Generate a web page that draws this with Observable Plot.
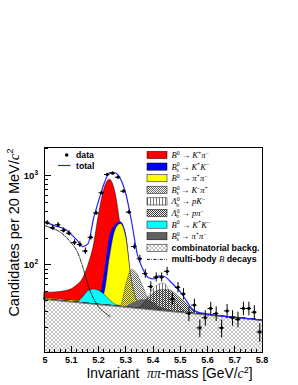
<!DOCTYPE html>
<html><head><meta charset="utf-8">
<script src="https://cdn.jsdelivr.net/npm/d3@7"></script>
<script src="https://cdn.jsdelivr.net/npm/@observablehq/plot@0.6"></script>
<style>
html,body{margin:0;padding:0;background:#fff;}
#chart svg{display:block;}
</style></head><body>
<svg width="0" height="0" style="position:absolute">
  <defs>
    <pattern id="pComb" width="4" height="4" patternUnits="userSpaceOnUse">
      <rect width="4" height="4" fill="#fff"/>
      <path d="M0,0L4,4M4,0L0,4" stroke="#999" stroke-width="0.6" fill="none"/>
    </pattern>
    <pattern id="pBsKpi" width="2" height="2" patternUnits="userSpaceOnUse">
      <rect x="0" y="0" width="1" height="1" fill="#666"/>
      <rect x="1" y="1" width="1" height="1" fill="#666"/>
    </pattern>
    <pattern id="pLbPK" width="3" height="3" patternUnits="userSpaceOnUse">
      <rect x="0" y="0" width="1" height="3" fill="#777"/>
    </pattern>
    <pattern id="pLbPpi" width="2" height="2" patternUnits="userSpaceOnUse">
      <rect x="0" y="0" width="1" height="1" fill="#333"/>
      <rect x="1" y="1" width="1" height="1" fill="#333"/>
    </pattern>
  </defs>
</svg>
<div id="chart"></div>
<script>
// ---- data ----
const massGrid = [5.00,5.02,5.04,5.06,5.08,5.10,5.12,5.14,5.16,5.18,5.20,5.22,5.24,5.26,5.28,5.30,5.32,5.34,5.36,5.38,5.40,5.42,5.44,5.46,5.48,5.50,5.52,5.54,5.56,5.58,5.60,5.62,5.64,5.66,5.68,5.70,5.72,5.74,5.76,5.78,5.80];
const binCenters = [5.01,5.03,5.05,5.07,5.09,5.11,5.13,5.15,5.17,5.19,5.21,5.23,5.25,5.27,5.29,5.31,5.33,5.35,5.37,5.39,5.41,5.43,5.45,5.47,5.49,5.51,5.53,5.55,5.57,5.59,5.61,5.63,5.65,5.67,5.69,5.71,5.73,5.75,5.77,5.79];
const dataCounts = [301,264,286,247,230,181,172,145,207,387,652,1045,1081,975,680,396,163,119,81,58,74,74,86,42,57,48,29,36,20,26,33,29,20,31,26,25,33,33,30,18];
const totalFit = [311,292,277,266,250,220,191,163,176,336,548,849,1100,1086,918,608,303,136,92.5,73.4,70.6,76.3,75.3,67,58.2,49.9,40.6,33,30.2,29.2,28.7,27.9,27.4,26.9,26.5,26.2,25.8,25.5,25.2,24.8,24.6];
const multiBody = [281,266,253,234,206,176,143,97.5,59.7,42.7,33.9,29.8,26.9];
const combBkg = [41.6,41.0,40.5,39.9,39.4,38.9,38.4,37.8,37.3,36.8,36.3,35.8,35.4,34.9,34.4,34.0,33.5,33.0,32.6,32.2,31.7,31.3,30.9,30.5,30.1,29.7,29.3,28.9,28.5,28.1,27.7,27.3,27.0,26.6,26.3,25.9,25.6,25.2,24.9,24.5,24.2];
// yields above the combinatorial background
const bdKpi  = [7.9,8.6,9.4,10.6,12.5,15.1,21.7,32,61,123,334,684,876,625,239,76,18.5,3,1,0,0,0,0,0,0,0,0,0,0,0,0,0,0,0,0,0,0,0,0,0,0];
const bsKK   = [0.5,0.5,0.5,0.5,0.5,0.5,0.5,0.5,0.5,2,4.3,46,176,245,273,194,40,7.5,1,0,0,0,0,0,0,0,0,0,0,0,0,0,0,0,0,0,0,0,0,0,0];
const bdPipi = [1.5,1.5,1.5,1.5,1.5,1.5,1.5,1.5,1.5,2,4,12.9,88,212,257,172,36,6.8,1.2,0,0,0,0,0,0,0,0,0,0,0,0,0,0,0,0,0,0,0,0,0,0];
const bsKpi  = [0,0,0,0,0,0,0,0,0,0,0,0,0,0.5,1,26,55.6,48,27,11.4,3.9,0.5,0,0,0,0,0,0,0,0,0,0,0,0,0,0,0,0,0,0,0];
const lbPK   = [0,0,0,0,0,0,0,0,0,0,0,0,0,0,0,0,0,0,2,11.6,22.1,29.9,32,20.7,10.5,4.2,1,0,0,0,0,0,0,0,0,0,0,0,0,0,0];
const lbPpi  = [0,0,0,0,0,0,0,0,0,0,0,0,0,0,0,0,0,0,3,10.5,16.8,21.1,22.2,22,18.5,13,8.2,3.2,1.3,0.3,0,0,0,0,0,0,0,0,0,0,0];
const bdKK   = [0,0,0,0,0,0,0.5,5.8,13.9,17.1,15.9,11.5,5.5,1.7,0.3,0,0,0,0,0,0,0,0,0,0,0,0,0,0,0,0,0,0,0,0,0,0,0,0,0,0];
const bsPipi = [0,0,0,0,0,0,0,0,0,0,0,0,0,0,0,0.3,3.5,6.4,8.4,8.3,6.3,3.4,1.7,0.5,0,0,0,0,0,0,0,0,0,0,0,0,0,0,0,0,0];

const xMajor = [5.0,5.1,5.2,5.3,5.4,5.5,5.6,5.7,5.8];
const xMajorLabels = ["5","5.1","5.2","5.3","5.4","5.5","5.6","5.7","5.8"];
const xMinor = massGrid;
const yMajor = [100, 1000];
const yMajorExp = ["2", "3"];
const yMinor = [20,30,40,50,60,70,80,90,200,300,400,500,600,700,800,900,2000];
const yDomain = [10.6, 2096];

const legendItems = [
  {fill:"#ff0000", parts:[["B"],["0","sup"],[" → K"],["+","sup"],["π"],["−","sup"]]},
  {fill:"#0000ff", parts:[["B"],["0","sup"],["s","sub",-3.2],[" → K"],["+","sup"],["K"],["−","sup"]]},
  {fill:"#ffff00", parts:[["B"],["0","sup"],[" → π"],["+","sup"],["π"],["−","sup"]]},
  {fill:"url(#pBsKpi)", parts:[["B"],["0","sup"],["s","sub",-3.2],[" → K"],["−","sup"],["π"],["+","sup"]]},
  {fill:"url(#pLbPK)", parts:[["Λ"],["0","sup"],["b","sub",-3.2],[" → pK"],["−","sup"]]},
  {fill:"url(#pLbPpi)", parts:[["Λ"],["0","sup"],["b","sub",-3.2],[" → pπ"],["−","sup"]]},
  {fill:"#00ffff", parts:[["B"],["0","sup"],[" → K"],["+","sup"],["K"],["−","sup"]]},
  {fill:"#606060", parts:[["B"],["0","sup"],["s","sub",-3.2],[" → π"],["+","sup"],["π"],["−","sup"]]},
  {fill:"url(#pComb)", sans:"combinatorial backg."},
  {line:true, sansParts:[["multi-body ","b"],["B","i"],[" decays","b"]]}
];

// ---- table ----
const rows = massGrid.map((m, i) => ({
  m, comb: combBkg[i], total: totalFit[i],
  bdKpi: bdKpi[i], bsKK: bsKK[i], bdPipi: bdPipi[i], bsKpi: bsKpi[i],
  lbPK: lbPK[i], lbPpi: lbPpi[i], bdKK: bdKK[i], bsPipi: bsPipi[i]
}));
const pts = binCenters.map((m, i) => ({m, n: dataCounts[i]}));
const mb = multiBody.map((v, i) => ({m: massGrid[i], v}));

function comp(key, fill, stroke = "#000", sw = 0.5) {
  return Plot.areaY(rows, {x: "m", y1: "comb", y2: d => d.comb + d[key],
    fill, stroke, strokeWidth: sw, curve: "monotone-x"});
}

const chart = Plot.plot({
  width: 298, height: 385,
  marginLeft: 44, marginRight: 36, marginTop: 147, marginBottom: 33,
  x: {domain: [5, 5.8], axis: null},
  y: {type: "log", domain: yDomain, axis: null},
  style: {background: "#fff", fontFamily: "'Liberation Sans', Arial, sans-serif"},
  marks: [
    comp("bdKpi", "#ff0000"),
    comp("bsKK", "#0000ff", "none"),
    comp("bdPipi", "#ffff00", "#000", 0.4),
    comp("bdKK", "#00ffff", "#000", 0.4),
    comp("bsPipi", "#606060", "#333", 0.4),
    comp("bsKpi", "url(#pBsKpi)", "#333", 0.4),
    comp("lbPK", "url(#pLbPK)", "#444", 0.4),
    comp("lbPpi", "url(#pLbPpi)", "#222", 0.4),
    Plot.areaY(rows, {x: "m", y1: yDomain[0], y2: "comb", fill: "url(#pComb)", curve: "monotone-x"}),
    Plot.line(rows, {x: "m", y: "comb", stroke: "#222", strokeWidth: 0.6, curve: "monotone-x"}),
    Plot.line(mb, {x: "m", y: "v", stroke: "#000", strokeWidth: 0.9, strokeDasharray: "3,1.3,0.8,1.3", curve: "monotone-x"}),
    Plot.line(rows, {x: "m", y: "total", stroke: "#2222ff", strokeWidth: 1.2, curve: "monotone-x"}),
    Plot.ruleX(pts, {x: "m", y1: d => d.n - Math.sqrt(d.n), y2: d => d.n + Math.sqrt(d.n), stroke: "#000", strokeWidth: 1}),
    Plot.ruleY(pts, {y: "n", x1: d => d.m - 0.01, x2: d => d.m + 0.01, stroke: "#000", strokeWidth: 1}),
    Plot.dot(pts, {x: "m", y: "n", r: 1.6, fill: "#000"}),
    Plot.frame({stroke: "#000", strokeWidth: 1})
  ]
});
document.getElementById("chart").appendChild(chart);

// ---- axes, titles and legends drawn with the chart's scales ----
const svg = d3.select(chart);
const sx = v => chart.scale("x").apply(v);
const sy = v => chart.scale("y").apply(v);
const x0 = sx(5), yb = sy(yDomain[0]);
const SANS = "'Liberation Sans', Arial, sans-serif";
const SERIF = "'Liberation Serif', 'Times New Roman', serif";

const tg = svg.append("g").attr("stroke", "#000").attr("stroke-width", 1).attr("shape-rendering", "crispEdges");
xMinor.forEach(t => tg.append("line").attr("x1", sx(t)).attr("x2", sx(t)).attr("y1", yb).attr("y2", yb - 3));
xMajor.forEach(t => tg.append("line").attr("x1", sx(t)).attr("x2", sx(t)).attr("y1", yb).attr("y2", yb - 6.5));
yMinor.forEach(v => tg.append("line").attr("x1", x0).attr("x2", x0 + 3.5).attr("y1", sy(v)).attr("y2", sy(v)));
yMajor.forEach(v => tg.append("line").attr("x1", x0).attr("x2", x0 + 7).attr("y1", sy(v)).attr("y2", sy(v)));

const ax = svg.append("g").attr("fill", "#000");
xMajor.forEach((t, i) => ax.append("text").attr("x", sx(t) + (i === 0 ? 1 : 0)).attr("y", yb + 11)
  .attr("text-anchor", "middle").attr("font-family", SANS).attr("font-weight", "bold")
  .attr("font-size", 9).text(xMajorLabels[i]));
yMajor.forEach((v, i) => {
  const t = ax.append("text").attr("x", 38).attr("y", sy(v) + 3.4).attr("text-anchor", "end")
    .attr("font-family", SANS).attr("font-weight", "bold").attr("font-size", 9.5);
  t.append("tspan").text("10");
  t.append("tspan").attr("dy", -4).attr("font-size", 6.5).text(yMajorExp[i]);
});

function rich(sel, parts, baseSize) {
  let cur = 0;
  for (const [s, k = "n", dx = 0] of parts) {
    const off = k === "sup" ? -baseSize * 0.38 : k === "sub" ? baseSize * 0.25 : 0;
    const ts = sel.append("tspan").attr("dy", off - cur).text(s);
    if (dx) ts.attr("dx", dx);
    if (k === "sup" || k === "sub") ts.attr("font-size", baseSize * 0.68).attr("font-style", "normal");
    cur = off;
  }
}

// y title
const yt = ax.append("text").attr("transform", "translate(18.7,148.5) rotate(-90)")
  .attr("text-anchor", "end").attr("font-family", SANS).attr("font-size", 14.5);
yt.append("tspan").text("Candidates per 20 MeV/");
yt.append("tspan").attr("font-family", SERIF).attr("font-style", "italic").text("c");
yt.append("tspan").attr("dy", -5.5).attr("font-size", 9.5).text("2");

// x title
const xt = ax.append("text").attr("x", 252.5).attr("y", 378).attr("text-anchor", "end")
  .attr("font-family", SANS).attr("font-size", 13.8).style("white-space", "pre");
xt.append("tspan").text("Invariant  ");
xt.append("tspan").attr("font-family", SERIF).attr("font-style", "italic").text("ππ");
xt.append("tspan").text("-mass [GeV/");
xt.append("tspan").attr("font-family", SERIF).attr("font-style", "italic").text("c");
xt.append("tspan").attr("dy", -5.5).attr("font-size", 9).text("2");
xt.append("tspan").attr("dy", 5.5).text("]");

// left legend
const lg = svg.append("g");
lg.append("circle").attr("cx", 66.7).attr("cy", 155).attr("r", 1.8).attr("fill", "#000");
lg.append("line").attr("x1", 58).attr("x2", 70.5).attr("y1", 165.5).attr("y2", 165.5).attr("stroke", "#2222ff").attr("stroke-width", 1.2);
lg.append("text").attr("x", 76).attr("y", 158.2).attr("text-anchor", "start").attr("font-family", SANS).attr("font-weight", "bold").attr("font-size", 8.7).attr("fill", "#000").text("data");
lg.append("text").attr("x", 76).attr("y", 168.7).attr("text-anchor", "start").attr("font-family", SANS).attr("font-weight", "bold").attr("font-size", 8.7).attr("fill", "#000").text("total");

// right legend
const rg = svg.append("g");
legendItems.forEach((it, k) => {
  const cy = 155 + 11.6 * k;
  if (it.line) {
    rg.append("line").attr("x1", 147).attr("x2", 167).attr("y1", cy).attr("y2", cy)
      .attr("stroke", "#000").attr("stroke-width", 0.9).attr("stroke-dasharray", "3,1.3,0.8,1.3");
  } else {
    rg.append("rect").attr("x", 147).attr("y", cy - 3.6).attr("width", 20).attr("height", 7.2)
      .attr("fill", it.fill).attr("stroke", "#000").attr("stroke-width", 0.5);
  }
  const t = rg.append("text").attr("x", 171.5).attr("y", cy + 3).attr("text-anchor", "start")
    .attr("fill", "#000").style("white-space", "pre");
  if (it.parts) {
    t.attr("font-family", SERIF).attr("font-style", "italic").attr("font-size", 8.5);
    rich(t, it.parts, 8.5);
  } else if (it.sans) {
    t.attr("font-family", SANS).attr("font-weight", "bold").attr("font-size", 8.8).text(it.sans);
  } else {
    t.attr("font-family", SANS).attr("font-weight", "bold").attr("font-size", 8.8);
    it.sansParts.forEach(([s, k]) => {
      const ts = t.append("tspan").text(s);
      if (k === "i") ts.attr("font-family", SERIF).attr("font-style", "italic").attr("font-weight", "normal");
    });
  }
});
</script>
</body></html>
